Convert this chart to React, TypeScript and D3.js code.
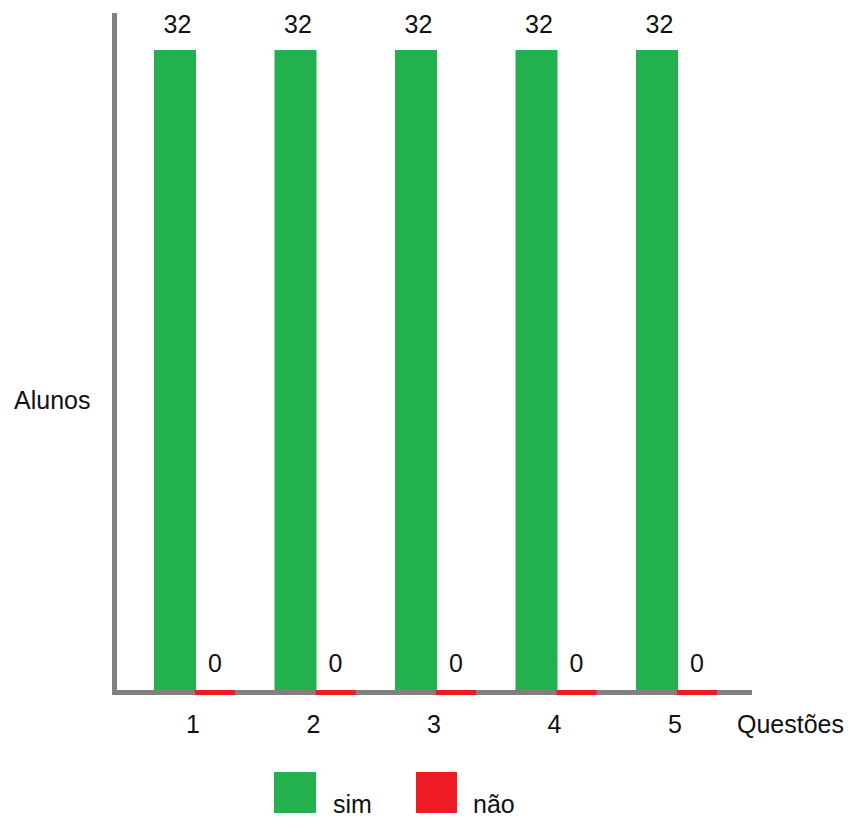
import React from "react";
import * as d3 from "d3";

const questions = ["1", "2", "3", "4", "5"];
const simValues = [32, 32, 32, 32, 32];
const naoValues = [0, 0, 0, 0, 0];
const seriesNames = ["sim", "não"];
const seriesColors = ["#22b14c", "#ed1c24"];

const W = 852;
const H = 819;
const FONT = "'Liberation Sans', Arial, sans-serif";

export default function App() {
  const axisX = 112;
  const axisW = 5;
  const baseY = 690;
  const axisH = 5;

  const x = d3.scaleBand<string>().domain(questions).range([135.75, 738.25]).paddingInner(0).paddingOuter(0);
  const y = d3.scaleLinear().domain([0, 32]).range([baseY, 50]);
  const barW = 41;

  const groupCenter = (q: string) => (x(q) as number) + x.bandwidth() / 2;

  return (
    <div style={{ position: "absolute", left: 0, top: 0 }}>
      <svg width={W} height={H} style={{ display: "block", background: "#fff" }} fontFamily={FONT}>
        {/* axes */}
        <rect x={axisX} y={13} width={axisW} height={baseY + axisH - 13} fill="#808080" />
        <rect x={axisX} y={baseY} width={752 - axisX} height={axisH} fill="#808080" />

        {questions.map((q, i) => {
          const c = groupCenter(q);
          const sy = y(simValues[i]);
          const ny = y(naoValues[i]);
          return (
            <g key={q}>
              <rect x={c - barW - 1} y={sy} width={barW + 1} height={baseY - sy} fill={seriesColors[0]} />
              <rect
                x={c - 1}
                y={naoValues[i] === 0 ? baseY : ny}
                width={40}
                height={naoValues[i] === 0 ? axisH : baseY - ny}
                fill={seriesColors[1]}
              />
              <text x={c - barW / 2 + 2} y={sy - 17} fontSize={25} textAnchor="middle" fill="#111">
                {simValues[i]}
              </text>
              <text x={c + 19} y={ny - 18} fontSize={25} textAnchor="middle" fill="#111">
                {naoValues[i]}
              </text>
              <text x={c - 3} y={733} fontSize={25} textAnchor="middle" fill="#111">
                {q}
              </text>
            </g>
          );
        })}

        <text x={14} y={409} fontSize={25} fill="#111">Alunos</text>
        <text x={737} y={733} fontSize={25} fill="#111">Questões</text>

        {/* legend */}
        <rect x={274} y={772} width={42} height={41} fill={seriesColors[0]} />
        <text x={333} y={813} fontSize={25} fill="#111">{seriesNames[0]}</text>
        <rect x={416} y={772} width={41} height={41} fill={seriesColors[1]} />
        <text x={473} y={813} fontSize={25} fill="#111">{seriesNames[1]}</text>
      </svg>
    </div>
  );
}
